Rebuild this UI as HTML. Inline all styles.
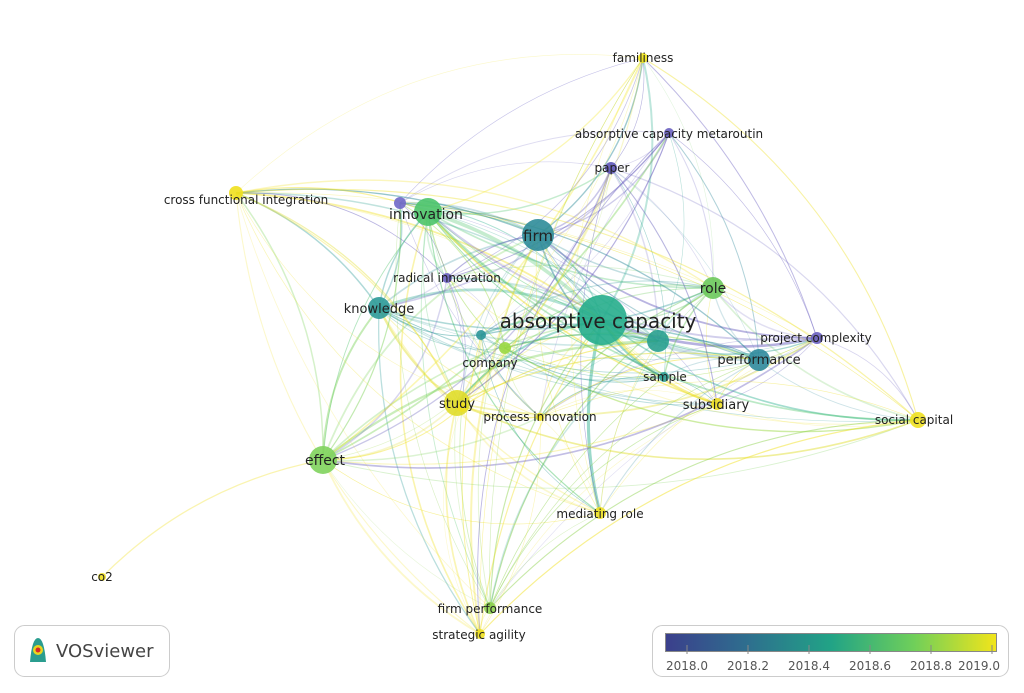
<!DOCTYPE html>
<html><head><meta charset="utf-8"><style>
body{margin:0;background:#fff;width:1024px;height:693px;overflow:hidden;font-family:"DejaVu Sans","Liberation Sans",sans-serif}
svg{position:absolute;left:0;top:0}
text{fill:#222}
</style></head><body>
<svg width="1024" height="693" viewBox="0 0 1024 693" xmlns="http://www.w3.org/2000/svg">
<defs>
<linearGradient id="vg" x1="0" x2="1">
<stop offset="0" stop-color="#3b3f8c"/><stop offset="0.25" stop-color="#2e6f8e"/>
<stop offset="0.5" stop-color="#21a386"/><stop offset="0.75" stop-color="#6fcf5a"/>
<stop offset="1" stop-color="#f2e51a"/></linearGradient>
</defs>
<g id="edges" fill="none"></g>
<g id="nodes"></g>
<g font-size="12">
<text x="643" y="62" text-anchor="middle">familiness</text>
<text x="669" y="138" text-anchor="middle">absorptive capacity metaroutin</text>
<text x="612" y="172" text-anchor="middle">paper</text>
<text x="246" y="204" text-anchor="middle">cross functional integration</text>
<text x="426" y="219" text-anchor="middle" font-size="14">innovation</text>
<text x="538" y="241" text-anchor="middle" font-size="15">firm</text>
<text x="447" y="282" text-anchor="middle">radical innovation</text>
<text x="379" y="313" text-anchor="middle" font-size="13">knowledge</text>
<text x="713" y="293" text-anchor="middle" font-size="14">role</text>
<text x="598" y="328" text-anchor="middle" font-size="20">absorptive capacity</text>
<text x="816" y="342" text-anchor="middle">project complexity</text>
<text x="759" y="364" text-anchor="middle" font-size="13">performance</text>
<text x="490" y="367" text-anchor="middle">company</text>
<text x="665" y="381" text-anchor="middle">sample</text>
<text x="457" y="408" text-anchor="middle" font-size="13">study</text>
<text x="540" y="421" text-anchor="middle">process innovation</text>
<text x="716" y="409" text-anchor="middle" font-size="13">subsidiary</text>
<text x="914" y="424" text-anchor="middle">social capital</text>
<text x="325" y="465" text-anchor="middle" font-size="14">effect</text>
<text x="600" y="518" text-anchor="middle">mediating role</text>
<text x="102" y="581" text-anchor="middle">co2</text>
<text x="490" y="613" text-anchor="middle">firm performance</text>
<text x="479" y="639" text-anchor="middle">strategic agility</text>
</g>
<rect x="14.5" y="625.5" width="155" height="51" rx="10" fill="#fff" stroke="#ccc"/>
<path d="M30 662 q2-24 8-24 q6 0 8 24 z" fill="#2a9d8f"/>
<circle cx="38" cy="650" r="5" fill="#e8d51e"/><circle cx="38" cy="650" r="2.5" fill="#d62828"/>
<text x="56" y="657" font-size="18" style="fill:#444">VOSviewer</text>
<rect x="652.5" y="625.5" width="356" height="51" rx="10" fill="#fff" stroke="#ccc"/>
<rect x="665.5" y="633.5" width="331" height="18" fill="url(#vg)" stroke="#888"/>
<g stroke="#888"><line x1="687" y1="645" x2="687" y2="654"/><line x1="748" y1="645" x2="748" y2="654"/><line x1="809" y1="645" x2="809" y2="654"/><line x1="870" y1="645" x2="870" y2="654"/><line x1="931" y1="645" x2="931" y2="654"/><line x1="992" y1="645" x2="992" y2="654"/></g>
<g font-size="12" text-anchor="middle">
<text x="687" y="670" style="fill:#555">2018.0</text><text x="748" y="670" style="fill:#555">2018.2</text><text x="809" y="670" style="fill:#555">2018.4</text><text x="870" y="670" style="fill:#555">2018.6</text><text x="931" y="670" style="fill:#555">2018.8</text><text x="979" y="670" style="fill:#555">2019.0</text>
</g>
</svg>
<script>
var N=[[602,320,25,"#26ad8c"],[538,235,16,"#2e8c99"],[428,212,14,"#4cc46a"],[379,308,11,"#2d9a98"],[713,288,11,"#6cc95c"],[759,360,11,"#2f8a9c"],[658,341,11,"#28a08f"],[323,460,14,"#7fd35d"],[457,403,13,"#e0dd2a"],[462,407,5,"#f0e020"],[505,348,6,"#9ad843"],[481,335,5,"#2a9598"],[447,278,5,"#6a5fc0"],[717,404,6,"#eedf22"],[664,377,5,"#2d9c96"],[918,420,8,"#eee021"],[817,338,6,"#6a60c0"],[611,168,6,"#5d55b8"],[669,133,5,"#6a60c0"],[643,58,5,"#f2e51a"],[236,193,7,"#f0e01e"],[400,203,6,"#6f68c8"],[600,513,6,"#eee022"],[490,608,6,"#8cd24c"],[480,634,5,"#f0e01e"],[102,577,4,"#f0e01e"],[540,417,4,"#eedf22"]];
var E=document.getElementById('edges'),s='';
var seed=7;function r(){seed=(seed*9301+49297)%233280;return seed/233280;}
function mix(a,b){return r()<0.5?a:b;}
for(var i=0;i<N.length;i++)for(var j=i+1;j<N.length;j++){
 if((i==25||j==25)&&!(i==7&&j==25))continue;
 var a=N[i],b=N[j];
 var p=(a[2]+b[2])/40; if(r()>Math.min(0.85,0.3+p))continue;
 var mx=(a[0]+b[0])/2,my=(a[1]+b[1])/2,dx=b[0]-a[0],dy=b[1]-a[1];
 var k=0.12+r()*0.12;var cx=mx-dy*k,cy=my+dx*k;
 var w=Math.max(0.6,(a[2]+b[2])/14*(0.4+r()));
 s+='<path d="M'+a[0]+' '+a[1]+'Q'+cx+' '+cy+' '+b[0]+' '+b[1]+'" stroke="'+mix(a[3],b[3])+'" stroke-width="'+w.toFixed(1)+'" stroke-opacity="'+(0.2+r()*0.3).toFixed(2)+'"/>';
}
E.innerHTML=s;var G=document.getElementById('nodes'),t='';
N.forEach(function(n){t+='<circle cx="'+n[0]+'" cy="'+n[1]+'" r="'+n[2]+'" fill="'+n[3]+'" fill-opacity="0.9"/>';});
G.innerHTML=t;
</script>
</body></html>
